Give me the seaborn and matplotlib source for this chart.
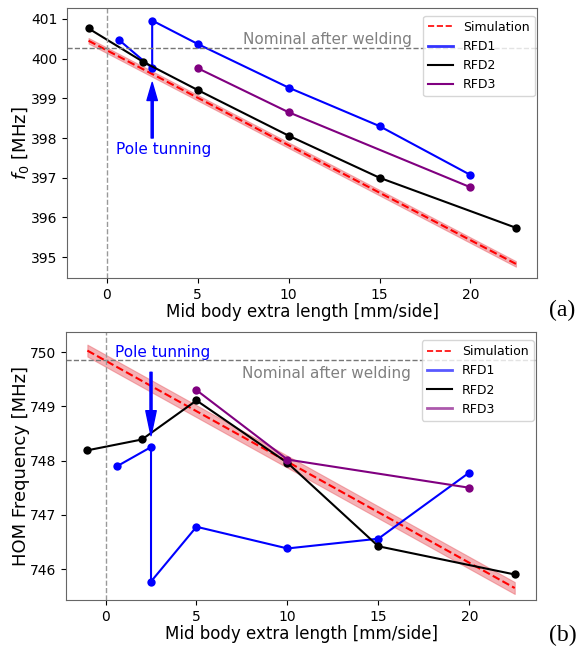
import numpy as np
import pandas as pd
import matplotlib
matplotlib.use("Agg")
import matplotlib.pyplot as plt
from matplotlib.lines import Line2D
import seaborn as sns

# ---- data ----
x_rfd1 = [0.65, 2.5, 2.5, 5, 10, 15, 20]
x_rfd2 = [-1, 2, 5, 10, 15, 22.5]
x_rfd3 = [5, 10, 20]
x_sim = [-1, 22.5]

f0_rfd1 = [400.48, 399.76, 400.96, 400.37, 399.27, 398.30, 397.07]
f0_rfd2 = [400.76, 399.92, 399.21, 398.06, 397.00, 395.74]
f0_rfd3 = [399.76, 398.65, 396.76]
f0_sim = [400.45, 394.83]
f0_sim_err = 0.07
f0_nominal = 400.27

hom_rfd1 = [747.90, 748.25, 745.77, 746.78, 746.38, 746.56, 747.78]
hom_rfd2 = [748.19, 748.39, 749.11, 747.96, 746.42, 745.90]
hom_rfd3 = [749.30, 748.02, 747.50]
hom_sim = [750.03, 745.65]
hom_sim_err = 0.11
hom_nominal = 749.85

series_names = ["RFD1", "RFD2", "RFD3"]
series_colors = ["blue", "black", "purple"]

plt.rcParams["axes.edgecolor"] = "#666666"
plt.rcParams["font.family"] = ["DejaVu Sans"]

fig = plt.figure(figsize=(5.84, 6.5), dpi=100)
ax1 = fig.add_axes([0.115, 0.572, 0.805, 0.416])
ax2 = fig.add_axes([0.113, 0.077, 0.805, 0.412])


def draw(ax, xs_list, ys_list, sim_y, sim_err, nominal, handle_alpha):
    sim_lo = [v - sim_err for v in sim_y]
    sim_hi = [v + sim_err for v in sim_y]
    ax.fill_between(x_sim, sim_lo, sim_hi, color="#e8555d", alpha=0.45, lw=0.8,
                    edgecolor="#e8555d")
    sns.lineplot(x=x_sim, y=sim_y, ax=ax, color="red", linestyle="--", lw=1.5,
                 estimator=None, sort=False)
    for xs, ys, c in zip(xs_list, ys_list, series_colors):
        sns.lineplot(x=xs, y=ys, ax=ax, color=c, lw=1.5, marker="o", markersize=6,
                     markeredgewidth=0, estimator=None, sort=False)
    ax.axhline(nominal, color="#777777", ls="--", lw=1.0)
    ax.axvline(0, color="#999999", ls="--", lw=1.0)
    handles = [Line2D([], [], color="red", ls="--", lw=1.2)]
    for c, a in zip(series_colors, handle_alpha):
        handles.append(Line2D([], [], color=c, lw=1.5 if a == 1 else 2.0, alpha=a))
    ax.legend(handles, ["Simulation"] + series_names, loc="upper right", fontsize=9,
              bbox_to_anchor=(1.0, 0.98), borderaxespad=0.2)
    ax.set_xticks([0, 5, 10, 15, 20])
    ax.tick_params(labelsize=10)
    ax.set_xlabel("Mid body extra length [mm/side]", fontsize=12, labelpad=1)


draw(ax1, [x_rfd1, x_rfd2, x_rfd3], [f0_rfd1, f0_rfd2, f0_rfd3], f0_sim, f0_sim_err,
     f0_nominal, [0.8, 1, 1])
ax1.set_ylabel("$f_0$ [MHz]", fontsize=13, labelpad=0)
ax1.set_ylim(394.47, 401.28)
ax1.text(7.5, f0_nominal + 0.02, "Nominal after welding", color="#808080", fontsize=11, va="bottom")
ax1.text(0.5, 397.7, "Pole tunning", color="blue", fontsize=11, va="center")
ax1.annotate("", xy=(2.5, 399.4), xytext=(2.5, 398.0),
             arrowprops=dict(facecolor="blue", edgecolor="blue", width=1.5,
                             headwidth=7.5, headlength=13, shrink=0))

draw(ax2, [x_rfd1, x_rfd2, x_rfd3], [hom_rfd1, hom_rfd2, hom_rfd3], hom_sim, hom_sim_err,
     hom_nominal, [0.65, 1, 0.65])
ax2.set_ylabel("HOM Frequency [MHz]", fontsize=13, labelpad=0)
ax2.set_ylim(745.43, 750.37)
ax2.text(7.5, 749.61, "Nominal after welding", color="#808080", fontsize=11, va="center")
ax2.text(0.5, 750.0, "Pole tunning", color="blue", fontsize=11, va="center")
ax2.annotate("", xy=(2.5, 748.46), xytext=(2.5, 749.63),
             arrowprops=dict(facecolor="blue", edgecolor="blue", width=1.5,
                             headwidth=7.5, headlength=18, shrink=0))

fig.text(0.963, 0.523, "(a)", fontsize=17, family="Liberation Serif", ha="center", va="center")
fig.text(0.963, 0.023, "(b)", fontsize=17, family="Liberation Serif", ha="center", va="center")

fig.savefig("out.png", dpi=100)
